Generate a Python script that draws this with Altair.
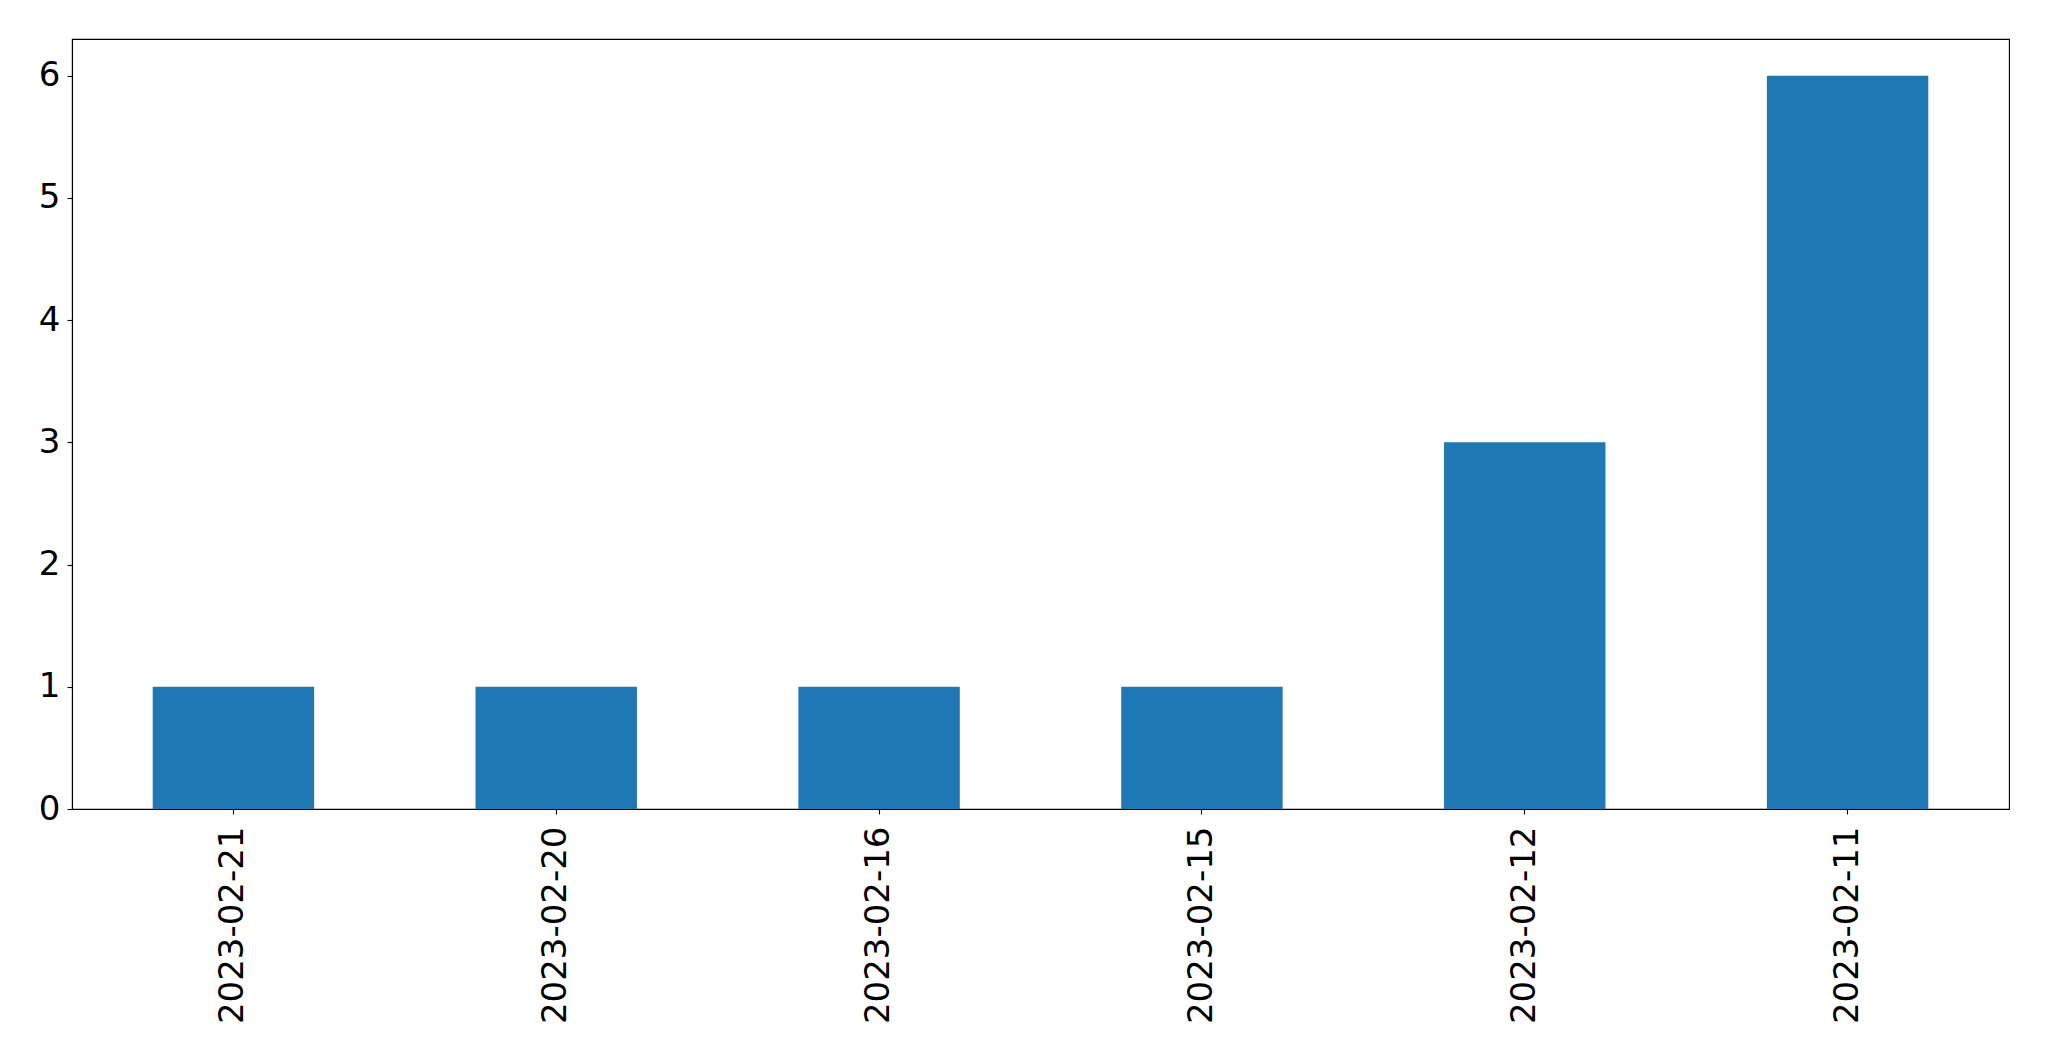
import altair as alt
import pandas as pd

dates = ["2023-02-21", "2023-02-20", "2023-02-16", "2023-02-15", "2023-02-12", "2023-02-11"]
counts = [1, 1, 1, 1, 3, 6]
y_ticks = [0, 1, 2, 3, 4, 5, 6]

df = pd.DataFrame({"date": dates, "count": counts})

chart = (
    alt.Chart(df)
    .mark_bar(color="#1f77b4")
    .encode(
        x=alt.X(
            "date:N",
            sort=None,
            title=None,
            scale=alt.Scale(paddingInner=0.5, paddingOuter=0.25),
            axis=alt.Axis(labelAngle=-90, labelPadding=12, labelLimit=0),
        ),
        y=alt.Y(
            "count:Q",
            title=None,
            scale=alt.Scale(domain=[0, 6.3], nice=False, zero=True),
            axis=alt.Axis(values=y_ticks, labelPadding=7, format="d"),
        ),
    )
    .properties(
        width=1937,
        height=770,
        autosize=alt.AutoSizeParams(type="none"),
        padding={"left": 64, "top": 31, "right": 30, "bottom": 230},
    )
    .configure_view(stroke="black", strokeWidth=1.1)
    .configure_axis(
        grid=False,
        domainColor="black",
        domainWidth=1.1,
        tickColor="black",
        tickWidth=1.1,
        tickSize=5,
        labelFont="DejaVu Sans",
        labelFontSize=34,
        labelColor="black",
    )
)

chart.save("out.html", embed_options={"renderer": "svg", "actions": False})
